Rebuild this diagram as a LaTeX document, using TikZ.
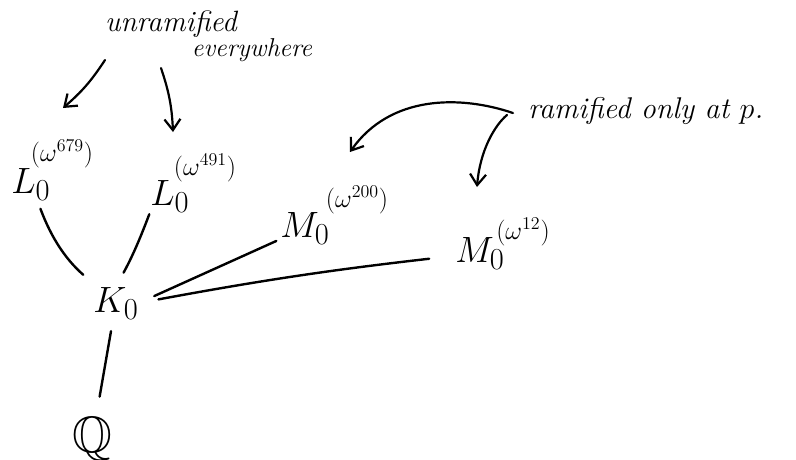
\documentclass[tikz,border=0pt]{standalone}
\usepackage{amssymb}
\usetikzlibrary{arrows.meta}
\tikzset{
  fld/.style={inner sep=0pt, font=\Huge, scale=1.47, transform shape, anchor=base west},
  supl/.style={inner sep=0pt, font=\LARGE, scale=1.5, transform shape},
  note/.style={inner sep=0pt, font=\Huge\itshape, scale=1.18, transform shape},
  edge/.style={line width=2.4pt, line cap=round},
  pointer/.style={line width=2.2pt, line cap=round, -{Straight Barb[length=11pt,width=16pt,line width=2.2pt]}}
}
\begin{document}
\begin{tikzpicture}[x=1pt,y=-1pt]
\useasboundingbox[fill=white] (0,0) rectangle (796,459);
% labels
\node[fld] (L1) at (11,193) {$L_0$};
\node[supl] (L1s) at (62,154) {$(\omega^{679})$};
\node[fld] (L2) at (150,205) {$L_0$};
\node[supl] (L2s) at (205,168) {$(\omega^{491})$};
\node[fld] (M1) at (280,237) {$M_0$};
\node[supl] (M1s) at (357,200) {$(\omega^{200})$};
\node[fld] (M2) at (455,262) {$M_0$};
\node[supl] (M2s) at (523,232) {$(\omega^{12})$};
\node[fld] (K) at (93,312) {$K_0$};
\node[fld, scale=1.4] (Q) at (72,452) {$\mathbb{Q}$};
% notes
\node[note] (un) at (171,24) {unramified};
\node[note, scale=0.88] (ev) at (252,50) {everywhere};
\node[note, anchor=west, scale=1.02] (ram) at (528,111) {ramified only at $p$.};
% connectors
\draw[edge, shorten <=9pt, shorten >=18pt] (L1) to[bend right=14] (K);
\draw[edge, shorten <=2pt, shorten >=16pt] (L2.south west) to[bend left=4] (K.north);
\draw[edge, shorten <=17pt, shorten >=4pt] (K.east) -- (M1);
\draw[edge, shorten <=20pt, shorten >=26pt] (K.east) to[bend left=2] (M2);
\draw[edge, shorten <=12pt, shorten >=20pt] (K) -- (Q);
% pointers
\coordinate (a1) at (105,60);
\coordinate (t1) at (63,108);
\coordinate (a2) at (161,68);
\coordinate (t2) at (173,132);
\coordinate (r0) at (513,113);
\coordinate (t3) at (350,152);
\coordinate (r1) at (507,115);
\coordinate (t4) at (477,187);
\draw[pointer] (a1) to[bend left=8] (t1);
\draw[pointer] (a2) to[bend left=8] (t2);
\draw[pointer] (r0) .. controls (460,95) and (390,95) .. (t3);
\draw[pointer] (r1) .. controls (495,125) and (480,150) .. (t4);
\end{tikzpicture}
\end{document}
